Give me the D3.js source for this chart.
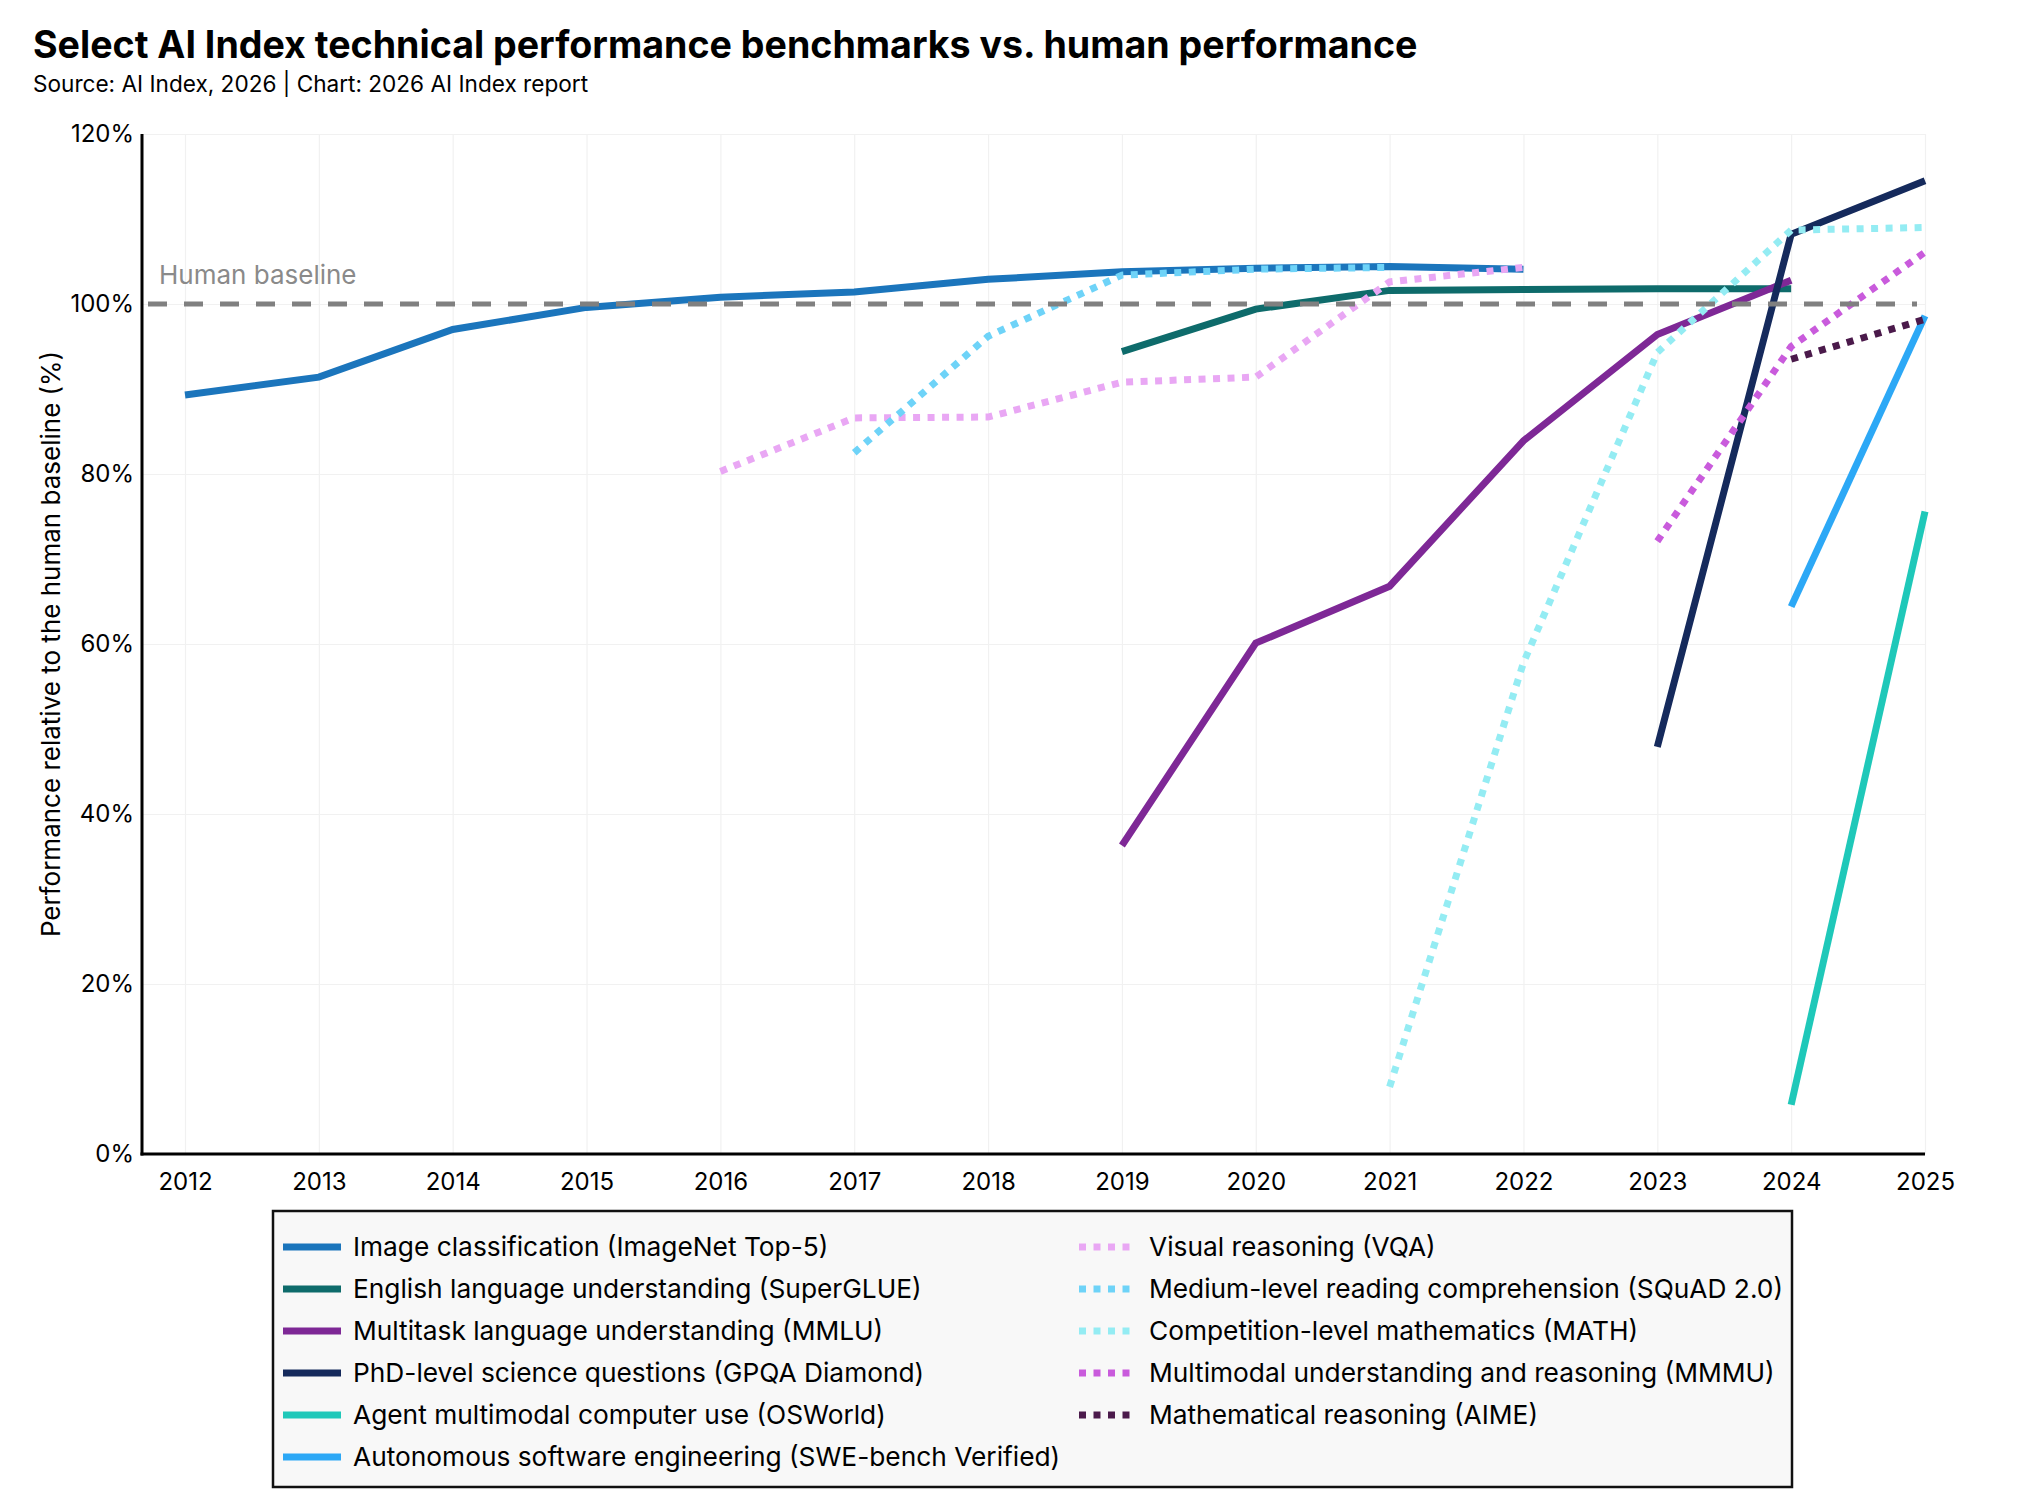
<!DOCTYPE html>
<html>
<head>
<meta charset="utf-8">
<script src="https://cdn.jsdelivr.net/npm/d3@7"></script>
<style>
  body { margin: 0; background: #fff; }
  text { font-family: Inter, "Noto Sans", sans-serif; }
</style>
</head>
<body>
<div id="chart"></div>
<script>
// tick labels
var years = [2012, 2013, 2014, 2015, 2016, 2017, 2018, 2019, 2020, 2021, 2022, 2023, 2024, 2025];
var pctTicks = [0, 20, 40, 60, 80, 100, 120];

// series (value relative to human baseline, %), each starts at its first year
var seriesNames = [
  "Image classification (ImageNet Top-5)",
  "English language understanding (SuperGLUE)",
  "Multitask language understanding (MMLU)",
  "PhD-level science questions (GPQA Diamond)",
  "Agent multimodal computer use (OSWorld)",
  "Autonomous software engineering (SWE-bench Verified)",
  "Visual reasoning (VQA)",
  "Medium-level reading comprehension (SQuAD 2.0)",
  "Competition-level mathematics (MATH)",
  "Multimodal understanding and reasoning (MMMU)",
  "Mathematical reasoning (AIME)"
];
var seriesStart = [2012, 2019, 2019, 2023, 2024, 2024, 2016, 2017, 2021, 2023, 2024];
var imagenet  = [89.3, 91.4, 97.0, 99.6, 100.8, 101.4, 102.9, 103.8, 104.2, 104.4, 104.1];
var superglue = [94.4, 99.4, 101.6, 101.7, 101.8, 101.8];
var mmlu      = [36.3, 60.1, 66.8, 83.9, 96.4, 102.8];
var gpqa      = [47.9, 108.2, 114.5];
var osworld   = [5.8, 75.6];
var swebench  = [64.4, 98.6];
var vqa       = [80.3, 86.6, 86.7, 90.8, 91.4, 102.6, 104.3];
var squad     = [82.5, 96.2, 103.4, 104.1, 104.3];
var math      = [7.9, 57.8, 94.3, 108.7, 109.0];
var mmmu      = [72.1, 95.0, 106.1];
var aime      = [93.5, 98.2];
var humanBaseline = 100;

var seriesVals = [imagenet, superglue, mmlu, gpqa, osworld, swebench, vqa, squad, math, mmmu, aime];
var colors = ["#1b75bc", "#0e6b6b", "#7e2896", "#152a5c", "#1fc8b9", "#2ca8f6",
              "#e9a7f4", "#6ed3f8", "#94ecf3", "#c95bdc", "#4b1a4b"];
var dotted = [false, false, false, false, false, false, true, true, true, true, true];

var series = seriesNames.map(function(name, i){
  return {
    name: name,
    color: colors[i],
    dotted: dotted[i],
    vals: seriesVals[i].map(function(v, j){ return {yr: seriesStart[i] + j, val: v}; })
  };
});

drawChart(series);

function drawChart(series){
  var W = 2024, H = 1505;
  var pLeft = 142, pRight = 1925, pTop = 134, pBottom = 1154;

  var svg = d3.select('#chart').append('svg')
    .attr('width', W).attr('height', H);

  var x = d3.scaleLinear().domain([2012, 2025]).range([185, pRight]);
  var y = d3.scaleLinear().domain([0, 120]).range([pBottom, pTop]);

  // titles
  svg.append('text')
    .attr('x', 33).attr('y', 58)
    .style('font-size', '37.6px').style('font-weight', 700)
    .text('Select AI Index technical performance benchmarks vs. human performance');
  svg.append('text')
    .attr('x', 33).attr('y', 92)
    .style('font-size', '22.6px')
    .text('Source: AI Index, 2026 | Chart: 2026 AI Index report');

  // grid
  svg.append('g')
    .attr('transform', 'translate(0,' + pBottom + ')')
    .call(d3.axisBottom(x).tickValues(years).tickSize(-(pBottom - pTop)).tickFormat(''))
    .call(function(g){
      g.select('.domain').remove();
      g.selectAll('line').attr('stroke', '#f1f1f1').attr('stroke-width', 1.2);
    });
  svg.append('g')
    .attr('transform', 'translate(' + pLeft + ',0)')
    .call(d3.axisLeft(y).tickValues(pctTicks).tickSize(-(pRight - pLeft)).tickFormat(''))
    .call(function(g){
      g.select('.domain').remove();
      g.selectAll('line').attr('stroke', '#f1f1f1').attr('stroke-width', 1.2);
    });

  // lines
  var line = d3.line()
    .x(function(d){ return x(d.yr); })
    .y(function(d){ return y(d.val); });

  svg.append('g').selectAll('.bench-line')
    .data(series)
    .enter().append('path')
    .attr('class', 'bench-line')
    .attr('d', function(d){ return line(d.vals); })
    .attr('fill', 'none')
    .attr('stroke', function(d){ return d.color; })
    .attr('stroke-width', 7)
    .attr('stroke-dasharray', function(d){ return d.dotted ? '7,7.5' : null; });

  // human baseline
  svg.append('line')
    .attr('x1', pLeft + 6).attr('x2', pRight - 8)
    .attr('y1', y(humanBaseline)).attr('y2', y(humanBaseline))
    .attr('stroke', '#808080').attr('stroke-width', 5)
    .attr('stroke-dasharray', '19,17');
  svg.append('text')
    .attr('x', 159).attr('y', 284)
    .style('font-size', '26px').style('fill', '#8a8a8a')
    .text('Human baseline');

  // axes
  svg.append('g')
    .attr('transform', 'translate(' + pLeft + ',0)')
    .call(d3.axisLeft(y).tickValues(pctTicks).tickSize(0).tickPadding(8)
      .tickFormat(function(d){ return d + '%'; }))
    .call(function(g){
      g.select('.domain').remove();
      g.selectAll('text').style('font-size', '24px').attr('fill', '#000')
        .style('font-family', 'Inter, sans-serif');
    });
  svg.append('g')
    .attr('transform', 'translate(0,' + pBottom + ')')
    .call(d3.axisBottom(x).tickValues(years).tickSize(0).tickPadding(19)
      .tickFormat(d3.format('d')))
    .call(function(g){
      g.select('.domain').remove();
      g.selectAll('text').style('font-size', '24px').attr('fill', '#000')
        .style('font-family', 'Inter, sans-serif');
    });
  svg.append('line')
    .attr('x1', pLeft).attr('x2', pLeft).attr('y1', pTop).attr('y2', pBottom + 1.5)
    .attr('stroke', '#000').attr('stroke-width', 3);
  svg.append('line')
    .attr('x1', pLeft - 1.5).attr('x2', pRight).attr('y1', pBottom).attr('y2', pBottom)
    .attr('stroke', '#000').attr('stroke-width', 3);

  svg.append('text')
    .attr('transform', 'translate(60,' + ((pTop + pBottom) / 2) + ') rotate(-90)')
    .attr('text-anchor', 'middle')
    .style('font-size', '26px')
    .text('Performance relative to the human baseline (%)');

  // legend
  var legend = svg.append('g');
  legend.append('rect')
    .attr('x', 273).attr('y', 1211).attr('width', 1519).attr('height', 276)
    .attr('fill', '#f8f8f8').attr('stroke', '#111').attr('stroke-width', 2.5);

  var items = legend.selectAll('.item')
    .data(series)
    .enter().append('g')
    .attr('class', 'item')
    .attr('transform', function(d, i){
      var col = i < 6 ? 0 : 1, row = i < 6 ? i : i - 6;
      return 'translate(' + (col ? 1079 : 283) + ',' + (1247 + row * 42) + ')';
    });
  items.append('line')
    .attr('x1', 0).attr('x2', 58).attr('y1', 0).attr('y2', 0)
    .attr('stroke', function(d){ return d.color; })
    .attr('stroke-width', 7)
    .attr('stroke-dasharray', function(d){ return d.dotted ? '7,7.5' : null; });
  items.append('text')
    .attr('x', 70).attr('y', 0).attr('dy', '0.36em')
    .style('font-size', '26.3px')
    .text(function(d){ return d.name; });
}
</script>
</body>
</html>
